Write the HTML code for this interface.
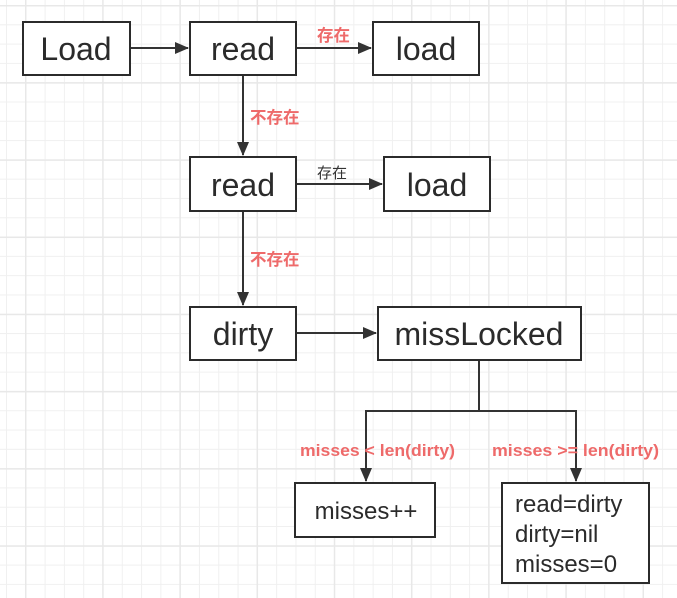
<!DOCTYPE html>
<html><head><meta charset="utf-8"><style>
html,body{margin:0;padding:0;}
body{width:677px;height:598px;overflow:hidden;background:#fff;
background-image:
linear-gradient(to right,#e8e8e8 1.5px,transparent 1.5px),
linear-gradient(to bottom,#e8e8e8 1.5px,transparent 1.5px),
linear-gradient(to right,#f0f0f0 1px,transparent 1px),
linear-gradient(to bottom,#f0f0f0 1px,transparent 1px);
background-size:77.2px 77.2px,77.2px 77.2px,19.3px 19.3px,19.3px 19.3px;
background-position:25px 5px,25px 5px,6px 5px,6px 5px;
font-family:"Liberation Sans","Noto Sans CJK SC",sans-serif;}
</style></head><body>
<svg width="677" height="598" style="position:absolute;left:0;top:0" font-family="Liberation Sans, Noto Sans CJK SC, sans-serif">
<defs><marker id="a" markerWidth="14" markerHeight="12" refX="13" refY="6" orient="auto" markerUnits="userSpaceOnUse"><path d="M0,0 L14,6 L0,12 Z" fill="#333"/></marker></defs>
<g fill="#fff" stroke="#2b2b2b" stroke-width="2">
<rect x="23" y="22" width="107" height="53"/>
<rect x="190" y="22" width="106" height="53"/>
<rect x="373" y="22" width="106" height="53"/>
<rect x="190" y="157" width="106" height="54"/>
<rect x="384" y="157" width="106" height="54"/>
<rect x="190" y="307" width="106" height="53"/>
<rect x="378" y="307" width="203" height="53"/>
<rect x="295" y="483" width="140" height="54"/>
<rect x="502" y="483" width="147" height="100"/>
</g>
<g stroke="#333" stroke-width="2" fill="none">
<line x1="131" y1="48" x2="188" y2="48" marker-end="url(#a)"/>
<line x1="297" y1="48" x2="371" y2="48" marker-end="url(#a)"/>
<line x1="243" y1="76" x2="243" y2="155" marker-end="url(#a)"/>
<line x1="297" y1="184" x2="382" y2="184" marker-end="url(#a)"/>
<line x1="243" y1="212" x2="243" y2="305" marker-end="url(#a)"/>
<line x1="297" y1="333" x2="376" y2="333" marker-end="url(#a)"/>
<polyline points="479,361 479,411 366,411 366,481" marker-end="url(#a)"/>
<polyline points="479,411 576,411 576,481" marker-end="url(#a)"/>
</g>
<g fill="#2b2b2b" font-size="32" text-anchor="middle">
<text x="76" y="60">Load</text>
<text x="243" y="60">read</text>
<text x="426" y="60">load</text>
<text x="243" y="196">read</text>
<text x="437" y="196">load</text>
<text x="243" y="345">dirty</text>
<text x="479" y="345">missLocked</text>
</g>
<g fill="#2b2b2b" font-size="24">
<text x="366" y="519" text-anchor="middle">misses++</text>
<text x="515" y="512">read=dirty</text>
<text x="515" y="542">dirty=nil</text>
<text x="515" y="572">misses=0</text>
</g>
<g fill="#ee6a6a" font-size="16.5" font-weight="bold">
<text x="317" y="41">存在</text>
<text x="250" y="123">不存在</text>
<text x="250" y="265">不存在</text>
<text x="300" y="456" textLength="155" lengthAdjust="spacingAndGlyphs">misses &lt; len(dirty)</text>
<text x="492" y="456" textLength="167" lengthAdjust="spacingAndGlyphs">misses &gt;= len(dirty)</text>
</g>
<text x="317" y="178" fill="#333" font-size="15">存在</text>
</svg>
</body></html>
